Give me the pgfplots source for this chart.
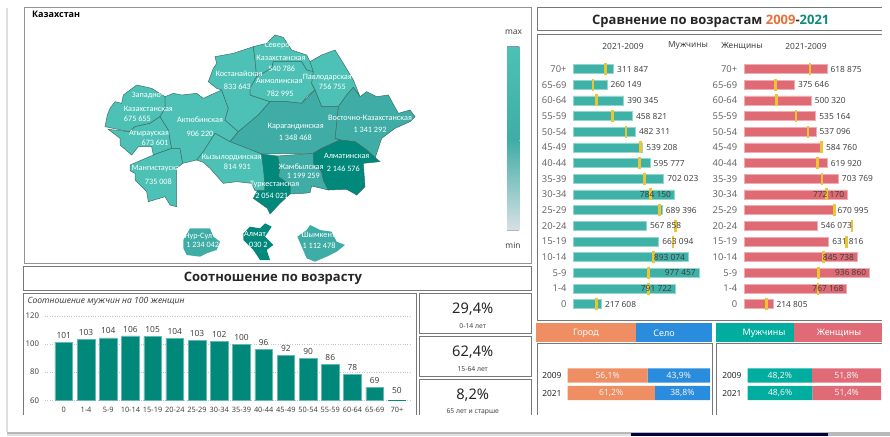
\documentclass[border=0pt]{standalone}
\usepackage{fontspec}
\setmainfont{Noto Sans}
\newfontfamily\tb{Open Sans}
\newfontfamily\cb{Carlito}
\usepackage{pgfplots}
\pgfplotsset{compat=1.18}
\definecolor{frame}{HTML}{777777}
\definecolor{lt}{HTML}{4DC1B6}
\definecolor{md}{HTML}{3FADA5}
\definecolor{dk}{HTML}{00897B}
\definecolor{edge}{HTML}{3F6F6B}
\definecolor{maleb}{HTML}{3FB2A7}
\definecolor{femb}{HTML}{E06A74}
\definecolor{yel}{HTML}{EBC534}
\definecolor{txt}{HTML}{444444}
\definecolor{gor}{HTML}{EE8E62}
\definecolor{sel}{HTML}{2A8CDC}
\definecolor{mu}{HTML}{00AD9F}
\definecolor{zh}{HTML}{E06B77}
\definecolor{legbot}{HTML}{D8E0E4}
\newcommand\fs[1]{\fontsize{#1}{#1}\selectfont}
\newcommand\Fr[5][frame]{\draw[#1,line width=1pt] (#2pt,-#3pt) rectangle (#4pt,-#5pt);}
\newcommand\Tx[4][]{\node[inner sep=0,#1] at (#2pt,-#3pt) {#4};}
\pgfplotsset{
 butterfly/.style={scale only axis,clip=false,y dir=reverse,ymin=-0.5,ymax=15.5,xmin=0,
   height=250.9pt,anchor=north west,hide x axis,
   axis y line*=left,y axis line style={draw=none},major tick length=0pt,tick style={draw=none},
   ytick={0,...,15},
   yticklabels={70+,65-69,60-64,55-59,50-54,45-49,40-44,35-39,30-34,25-29,20-24,15-19,10-14,5-9,1-4,0},
   yticklabel style={font=\fs{9.4},text=txt!80,inner sep=0pt,anchor=east,xshift=-6.6pt}},
 barrow/.style={xbar,bar width=9pt,bar shift=0pt,line width=0.5pt},
 mk/.style={only marks,mark=|,mark size=6pt,mark options={draw=yel,line width=2.6pt},draw=yel},
 labo/.style={only marks,mark=none,point meta=explicit symbolic,nodes near coords,
   every node near coord/.append style={anchor=west,inner sep=0pt,xshift=3.6pt,font=\fs{8.4},text=txt}},
 labi/.style={only marks,mark=none,point meta=explicit symbolic,nodes near coords,
   every node near coord/.append style={anchor=east,inner sep=0pt,xshift=-3pt,font=\fs{8.4},text=black!75}},
 stack/.style={scale only axis,anchor=north west,hide x axis,xbar stacked,bar width=14.4pt,
   y dir=reverse,ymin=-0.5,ymax=1.5,xmin=0,xmax=100,height=35pt,
   axis y line*=left,y axis line style={draw=none},major tick length=0pt,tick style={draw=none},
   ytick={0,1},yticklabels={2009,2021},
   yticklabel style={font=\fs{8.4},text=black!85,inner sep=0pt,anchor=east,xshift=-6pt}},
 reg/.style={fill=#1,draw=edge,line width=0.5pt},
}
\begin{document}
\begin{tikzpicture}[x=1pt,y=1pt]
\path[use as bounding box] (0pt,0pt) rectangle (890pt,-436pt);
% page edge
\fill[gray!55] (7pt,-431.5pt) rectangle (890pt,-434pt);
\fill[gray!25] (7pt,-434pt) rectangle (631pt,-436pt);
\fill[gray!55] (631pt,-434pt) rectangle (890pt,-436pt);
\fill[gray!25] (6pt,-8pt) rectangle (8pt,-432pt);
\fill[black!75!blue] (631pt,-433pt) rectangle (828pt,-436pt);
% frames
\Fr[gray!85]{24}{8}{531}{263}
\Fr{23.5}{266}{531}{290}
\draw[frame,line width=1pt] (23.5pt,-415pt) -- (23.5pt,-293pt) -- (416pt,-293pt) -- (416pt,-415pt);
\Fr{419}{293}{531}{333}
\Fr{419}{336}{531}{376}
\draw[frame,line width=1pt] (419pt,-415pt) -- (419pt,-379pt) -- (531pt,-379pt) -- (531pt,-415pt);
\draw[frame,line width=1pt] (882pt,-8pt) -- (537pt,-8pt) -- (537pt,-31pt) -- (882pt,-31pt);
\draw[frame,line width=1pt] (882pt,-35pt) -- (537pt,-35pt) -- (537pt,-320pt) -- (882pt,-320pt);
\draw[frame,line width=1pt] (537pt,-415pt) -- (537pt,-343pt) -- (712pt,-343pt) -- (712pt,-415pt);
\draw[frame,line width=1pt] (716pt,-415pt) -- (716pt,-343pt) -- (882pt,-343pt);
% map
\begin{axis}[at={(20pt,0pt)},anchor=north west,scale only axis,width=510pt,height=265pt,hide axis,
  xmin=0,xmax=1530,ymin=0,ymax=795,y dir=reverse,clip=false]
\addplot[reg=lt] coordinates {(255,380)(262,345)(270,325)(285,305)(305,310)(310,285)(350,255)(395,265)(435,290)(435,325)(420,350)(390,370)(345,380)(328,395)} -- cycle;
\addplot[reg=lt] coordinates {(265,388)(328,395)(345,380)(390,370)(420,350)(445,390)(455,445)(400,465)(395,440)(355,440)(335,465)(300,435)(300,415)} -- cycle;
\addplot[reg=lt] coordinates {(330,495)(400,465)(455,445)(480,445)(488,490)(470,505)(470,620)(450,615)(435,590)(385,605)(380,575)(345,540)(345,520)(330,512)} -- cycle;
\addplot[reg=lt] coordinates {(420,350)(435,325)(435,290)(460,280)(485,285)(530,280)(550,295)(605,270)(625,325)(615,360)(655,395)(630,425)(585,400)(550,455)(530,480)(488,490)(480,445)(455,445)(445,390)} -- cycle;
\addplot[reg=lt] coordinates {(585,170)(640,160)(700,140)(705,180)(710,230)(690,265)(690,285)(750,305)(715,345)(655,395)(615,360)(625,325)(605,270)(590,265)(565,245)(580,205)(590,190)} -- cycle;
\addplot[reg=lt] coordinates {(700,140)(740,130)(765,105)(790,112)(815,150)(860,165)(870,185)(880,215)(860,210)(845,185)(790,185)(760,185)(755,205)(710,230)(705,180)} -- cycle;
\addplot[reg=lt] coordinates {(710,230)(755,205)(760,185)(790,185)(845,185)(860,210)(880,215)(875,250)(885,270)(860,290)(845,310)(800,305)(750,305)(690,285)(690,265)} -- cycle;
\addplot[reg=lt] coordinates {(870,185)(905,165)(945,150)(970,190)(1000,240)(1020,290)(1000,262)(980,285)(955,320)(905,320)(885,270)(875,250)(880,215)} -- cycle;
\addplot[reg=md] coordinates {(1000,262)(1020,290)(1040,275)(1070,290)(1105,285)(1135,340)(1170,330)(1185,350)(1170,365)(1125,385)(1085,415)(1065,475)(1040,450)(1005,425)(960,420)(945,415)(955,320)(980,285)} -- cycle;
\addplot[reg=md] coordinates {(750,305)(800,305)(845,310)(885,270)(905,320)(955,320)(945,415)(960,420)(905,445)(880,460)(725,462)(630,425)(655,395)(715,345)} -- cycle;
\addplot[reg=lt] coordinates {(530,480)(550,455)(585,400)(630,425)(725,462)(732,520)(735,572)(705,572)(695,550)(650,545)(610,550)(570,505)(550,487)} -- cycle;
\addplot[reg=md] coordinates {(772,468)(880,460)(880,490)(905,515)(910,540)(925,570)(875,558)(870,578)(850,580)(810,582)(810,555)(775,530)(780,500)} -- cycle;
\addplot[reg=dk] coordinates {(725,462)(772,468)(780,500)(775,530)(810,555)(810,582)(780,610)(750,642)(742,625)(700,595)(712,572)(735,572)(732,520)} -- cycle;
\addplot[reg=dk] coordinates {(880,460)(905,445)(960,420)(1005,425)(1040,450)(1080,485)(1030,490)(1035,560)(1010,585)(980,568)(925,570)(910,540)(905,515)(880,490)} -- cycle;
\addplot[fill=md,draw=none] coordinates {(490,720)(510,685)(570,685)(580,710)(600,725)(590,750)(560,760)(540,770)(500,765)(490,745)} -- cycle;
\addplot[fill=dk,draw=none] coordinates {(670,700)(690,680)(720,685)(735,670)(755,680)(735,710)(760,735)(740,750)(750,780)(720,780)(700,750)(670,720)} -- cycle;
\addplot[fill=md,draw=none] coordinates {(832,710)(860,690)(870,675)(900,690)(935,695)(950,725)(975,735)(950,755)(920,770)(885,785)(860,775)(845,740)} -- cycle;
\newcommand\Mp[3]{\node[text=white,inner sep=0,font=\cb\fs{8.2}] at (axis cs:#1,#2) {#3};}
\Mp{775}{137}{Северо-}\Mp{783}{174}{Казахстанская}\Mp{785}{207}{540 786}
\Mp{657}{222}{Костанайская}\Mp{652}{261}{833 643}
\Mp{778}{242}{Акмолинская}\Mp{780}{281}{782 995}
\Mp{922}{232}{Павлодарская}\Mp{937}{261}{756 755}
\Mp{383}{288}{Западно-}\Mp{385}{327}{Казахстанская}\Mp{352}{356}{675 655}
\Mp{540}{360}{Актюбинская}\Mp{540}{402}{906 220}
\Mp{387}{400}{Атырауская}\Mp{405}{427}{673 601}
\Mp{407}{505}{Мангистауска}\Mp{415}{544}{735 008}
\Mp{635}{472}{Кызылординская}\Mp{652}{501}{814 931}
\Mp{827}{380}{Карагандинская}\Mp{826}{412}{1 348 468}
\Mp{1050}{353}{Восточно-Казахстанская}\Mp{1050}{390}{1 341 292}
\Mp{980}{469}{Алматинская}\Mp{970}{506}{2 146 576}
\Mp{843}{500}{Жамбылская}\Mp{850}{529}{1 199 259}
\Mp{764}{555}{Туркестанская}\Mp{755}{588}{2 054 021}
\Mp{535}{710}{Нур-Сул}\Mp{548}{736}{1 234 042}
\Mp{705}{703}{Алмат}\Mp{715}{736}{030 2}
\Mp{895}{705}{Шымкент}\Mp{897}{736}{1 112 478}
\end{axis}
\Tx[font=\tb\bfseries\fs{9},anchor=west]{32}{14}{Казахстан}
\Tx[font=\fs{8.4},text=txt]{513.5}{32.5}{max}
\Tx[font=\fs{8.4},text=txt]{513}{245}{min}
\shade[top color=lt,bottom color=md] (507.3pt,-46.7pt) rectangle (519.3pt,-140pt);
\shade[top color=md,bottom color=legbot] (507.3pt,-140pt) rectangle (519.3pt,-230pt);
\fill[blue!30!gray!70] (507.3pt,-46pt) rectangle (519.3pt,-47pt);
\fill[blue!20!gray!50] (507.3pt,-229.5pt) rectangle (519.3pt,-231pt);
% titles
\Tx[font=\tb\bfseries\fs{13}]{273}{278}{\textcolor{black!85}{Соотношение по возрасту}}
\Tx[font=\tb\bfseries\fs{13},anchor=west]{592}{21}{\textcolor{black!85}{Сравнение по возрастам} \textcolor[HTML]{E8703A}{2009}\textcolor{black!85}{-}\textcolor[HTML]{0F8A7E}{2021}}
\Tx[font=\fs{8.4},text=txt]{623}{46}{2021-2009}
\Tx[font=\fs{8.4},text=txt]{688}{46}{Мужчины}
\Tx[font=\fs{8.4},text=txt]{742}{46}{Женщины}
\Tx[font=\fs{8.4},text=txt]{806}{46}{2021-2009}
% male
\begin{axis}[butterfly,at={(573.3pt,-61.16pt)},width=128.6pt,xmax=1000000]
\addplot[barrow,fill=maleb,draw=maleb!55] coordinates {(311847,0)(260149,1)(390345,2)(458821,3)(482311,4)(539208,5)(595777,6)(702023,7)(784150,8)(689396,9)(567858,10)(663094,11)(893074,12)(977457,13)(791722,14)(217608,15)};
\addplot[mk] coordinates {(251000,0)(153000,1)(179000,2)(303000,3)(410000,4)(524000,5)(513000,6)(555000,7)(599000,8)(669000,9)(796000,10)(775000,11)(622000,12)(586000,13)(586000,14)(179000,15)};
\addplot[labo] coordinates {(311847,0)[311 847](260149,1)[260 149](390345,2)[390 345](458821,3)[458 821](482311,4)[482 311](539208,5)[539 208](595777,6)[595 777](702023,7)[702 023](689396,9)[689 396](567858,10)[567 858](663094,11)[663 094](217608,15)[217 608]};
\addplot[labi] coordinates {(784150,8)[784 150](893074,12)[893 074](977457,13)[977 457](791722,14)[791 722]};
\end{axis}
% female
\begin{axis}[butterfly,at={(744pt,-61.16pt)},width=133.8pt,xmax=1000000]
\addplot[barrow,fill=femb,draw=femb!55] coordinates {(618875,0)(375646,1)(500320,2)(535164,3)(537096,4)(584760,5)(619920,6)(703769,7)(772170,8)(670995,9)(546073,10)(631816,11)(845738,12)(936860,13)(767168,14)(214805,15)};
\addplot[mk] coordinates {(493000,0)(237000,1)(242000,2)(389000,3)(478000,4)(578000,5)(551000,6)(583000,7)(615000,8)(675000,9)(807000,10)(767000,11)(595000,12)(558000,13)(553000,14)(167000,15)};
\addplot[labo] coordinates {(618875,0)[618 875](375646,1)[375 646](500320,2)[500 320](535164,3)[535 164](537096,4)[537 096](584760,5)[584 760](619920,6)[619 920](703769,7)[703 769](670995,9)[670 995](546073,10)[546 073](631816,11)[631 816](214805,15)[214 805]};
\addplot[labi] coordinates {(772170,8)[772 170](845738,12)[845 738](936860,13)[936 860](767168,14)[767 168]};
\end{axis}
% headers
\fill[gor] (536pt,-323pt) rectangle (635.7pt,-342pt);
\fill[sel] (635.7pt,-323pt) rectangle (712pt,-342pt);
\fill[mu] (716pt,-323pt) rectangle (794pt,-342pt);
\fill[zh] (794pt,-323pt) rectangle (882pt,-342pt);
\Tx[font=\fs{9},text=white]{586}{333}{Город}
\Tx[font=\fs{9},text=white]{664}{333}{Село}
\Tx[font=\fs{9},text=white]{764}{333}{Мужчины}
\Tx[font=\fs{9},text=white]{839}{333}{Женщины}
% stacked bars
\begin{axis}[stack,at={(567.7pt,-366.75pt)},width=142.3pt]
\addplot[fill=gor,draw=none] coordinates {(56.1,0)(61.2,1)};
\addplot[fill=sel,draw=none] coordinates {(43.9,0)(38.8,1)};
\end{axis}
\begin{axis}[stack,at={(747.7pt,-366.75pt)},width=133.3pt]
\addplot[fill=mu,draw=none] coordinates {(48.2,0)(48.6,1)};
\addplot[fill=zh,draw=none] coordinates {(51.8,0)(51.4,1)};
\end{axis}
\newcommand\Sg[3]{\Tx[text=white!90!gray,font=\fs{8.6}]{#1}{#2}{#3}}
\Sg{607.6}{375.5}{56,1\%}\Sg{678.8}{375.5}{43,9\%}\Sg{611.2}{393}{61,2\%}\Sg{682.4}{393}{38,8\%}
\Sg{779.8}{375.5}{48,2\%}\Sg{846.5}{375.5}{51,8\%}\Sg{780.1}{393}{48,6\%}\Sg{846.7}{393}{51,4\%}
% column chart
\Tx[font=\itshape\fs{8.6},text=txt,anchor=west]{27.5}{301}{Соотношение мужчин на 100 женщин}
\begin{axis}[at={(45pt,-316pt)},anchor=north west,scale only axis,width=367pt,height=84.3pt,
  xmin=-0.847,xmax=15.68,ymin=60,ymax=120,
  axis line style={draw=none},tick style={draw=none},major tick length=0pt,
  ytick={60,80,100,120},/pgf/number format/assume math mode=true,
  ymajorgrids,grid style={dotted,gray!45,line width=0.6pt},
  xtick={0,...,15},xticklabels={0,1-4,5-9,10-14,15-19,20-24,25-29,30-34,35-39,40-44,45-49,50-54,55-59,60-64,65-69,70+},
  xticklabel style={font=\fs{7.4},text=txt,inner sep=0pt,yshift=-7pt},
  yticklabel style={font=\fs{7.8},text=txt,inner sep=0pt,xshift=-5.7pt}]
\addplot[ybar,bar width=17.7pt,bar shift=0pt,fill=dk,draw=dk!60,line width=0.5pt,
  point meta=explicit symbolic,nodes near coords,
  every node near coord/.append style={font=\fs{8.4},text=txt,inner sep=0pt,yshift=3.5pt,anchor=south}]
  coordinates {(0,101.4)[101](1,103.2)[103](2,104.5)[104](3,105.8)[106](4,105.3)[105](5,104.2)[104](6,102.9)[103](7,101.8)[102](8,99.8)[100](9,96)[96](10,92.2)[92](11,89.8)[90](12,85.8)[86](13,78.4)[78](14,69.3)[69]};
\addplot[ybar,bar width=17.7pt,bar shift=0pt,fill=dk,draw=none] coordinates {(15,50)};
\node[font=\fs{8.4},text=txt,inner sep=0pt,anchor=south] at (axis cs:15,64.3) {50};
\end{axis}
% KPI
\Tx[font=\fs{14.6},text=black!85]{472.7}{309}{29,4\%}
\Tx[font=\fs{6.8},text=txt]{472.7}{326}{0-14 лет}
\Tx[font=\fs{14.6},text=black!85]{472.7}{352}{62,4\%}
\Tx[font=\fs{6.8},text=txt]{472.7}{369}{15-64 лет}
\Tx[font=\fs{14.6},text=black!85]{472.7}{395}{8,2\%}
\Tx[font=\fs{6.8},text=txt]{472.7}{412}{65 лет и старше}
\end{tikzpicture}
\end{document}
